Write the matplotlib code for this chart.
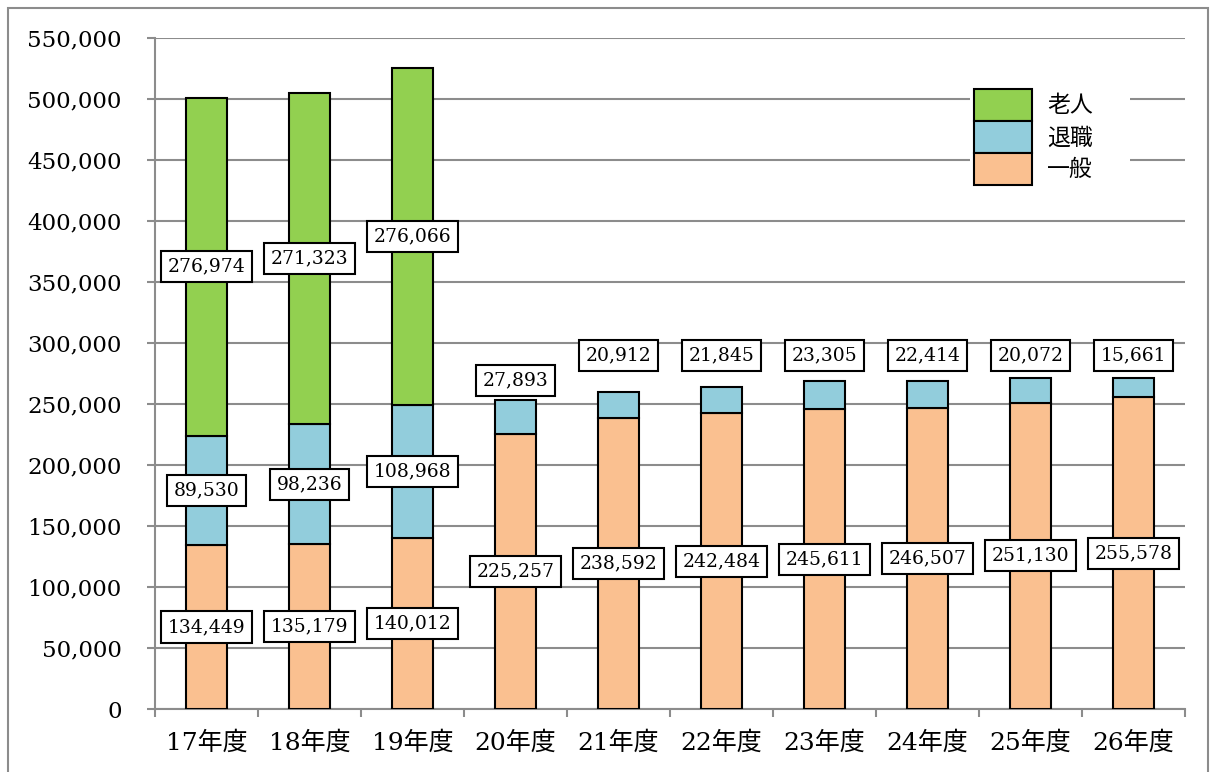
import numpy as np
import matplotlib
matplotlib.use("Agg")
from matplotlib import pyplot as plt, patches
from matplotlib.legend_handler import HandlerPatch

years = ["17年度", "18年度", "19年度", "20年度", "21年度",
         "22年度", "23年度", "24年度", "25年度", "26年度"]
ippan = [134449, 135179, 140012, 225257, 238592, 242484, 245611, 246507, 251130, 255578]
taishoku = [89530, 98236, 108968, 27893, 20912, 21845, 23305, 22414, 20072, 15661]
rojin = [276974, 271323, 276066, 0, 0, 0, 0, 0, 0, 0]

# where the small 退職 labels sit (above the bar) for 20年度 onwards
taishoku_label_y = [None, None, None, 269000, 290000, 290000, 290000, 290000, 290000, 290000]

colors = {'一般': '#FAC090', '退職': '#92CDDC', '老人': '#92D050'}

plt.rcParams['font.family'] = ['DejaVu Serif', 'Noto Sans CJK JP']

fig = plt.figure(figsize=(12.1, 7.72), dpi=100)
ax = fig.add_axes([155 / 1210, 1 - 709 / 772, 1030 / 1210, 671 / 772])

# outer frame
fig.patches.append(patches.Rectangle((8 / 1210, -0.05), 1200 / 1210, 1.05 - 8 / 772,
                                     transform=fig.transFigure, fill=False,
                                     edgecolor='#8c8c8c', linewidth=1.5))

x = np.arange(len(years))
w = 0.4
ippan = np.array(ippan)
taishoku = np.array(taishoku)
rojin = np.array(rojin)
has_rojin = rojin > 0

edge = dict(edgecolor='black', linewidth=1.5, zorder=3)
ax.bar(x, ippan, w, color=colors['一般'], **edge)
ax.bar(x, taishoku, w, bottom=ippan, color=colors['退職'], **edge)
ax.bar(x[has_rojin], rojin[has_rojin], w, bottom=(ippan + taishoku)[has_rojin],
       color=colors['老人'], **edge)

box = dict(boxstyle='square,pad=0.35', facecolor='white', edgecolor='black', linewidth=1.5)
for i in range(len(years)):
    ax.text(x[i], ippan[i] / 2, f"{ippan[i]:,}", ha='center', va='center',
            fontsize=13.5, bbox=box, zorder=5)
    if taishoku_label_y[i] is None:
        ty = ippan[i] + taishoku[i] / 2
    else:
        ty = taishoku_label_y[i]
    ax.text(x[i], ty, f"{taishoku[i]:,}", ha='center', va='center',
            fontsize=13.5, bbox=box, zorder=5)
    if has_rojin[i]:
        ax.text(x[i], ippan[i] + taishoku[i] + rojin[i] / 2, f"{rojin[i]:,}",
                ha='center', va='center', fontsize=13.5, bbox=box, zorder=5)

ax.set_xlim(-0.5, len(years) - 0.5)
ax.set_ylim(0, 550000)
yt = np.arange(0, 550001, 50000)
ax.set_yticks(yt)
ax.set_yticklabels([f"{v:,}" for v in yt])
ax.set_xticks(x)
ax.set_xticklabels(years)
ax.set_xticks(np.arange(-0.5, len(years), 1), minor=True)

ax.grid(axis='y', color='#8c8c8c', linewidth=1.5)
ax.set_axisbelow(True)
for s in ['top', 'right']:
    ax.spines[s].set_visible(False)
for s in ['left', 'bottom']:
    ax.spines[s].set_color('#8c8c8c')
    ax.spines[s].set_linewidth(1.5)

ax.tick_params(axis='y', direction='out', length=6, width=1.5, color='#8c8c8c',
               labelsize=16.5, pad=18)
ax.tick_params(axis='x', which='major', length=0, labelsize=18, pad=16)
ax.tick_params(axis='x', which='minor', direction='out', length=6, width=1.5, color='#8c8c8c')

# white area behind the legend
ax.add_patch(patches.Rectangle((970 / 1210, 1 - 192 / 772), 160 / 1210, 108 / 772,
                               transform=fig.transFigure,
                               facecolor='white', edgecolor='none', zorder=1))

handles = [patches.Patch(facecolor=colors[k], edgecolor='black', linewidth=1.5, label=k)
           for k in ['老人', '退職', '一般']]
ax.legend(handles=handles, loc='upper left', bbox_to_anchor=(974 / 1210, 1 - 89 / 772),
          bbox_transform=fig.transFigure, frameon=False,
          handlelength=2.55, handleheight=1.77, labelspacing=0,
          handletextpad=0.65, borderpad=0, borderaxespad=0,
          handler_map={patches.Patch: HandlerPatch(xpad=0, ypad=0)},
          prop={'family': 'Noto Sans CJK JP', 'size': 16.5})

fig.savefig("out.png", dpi=100)
